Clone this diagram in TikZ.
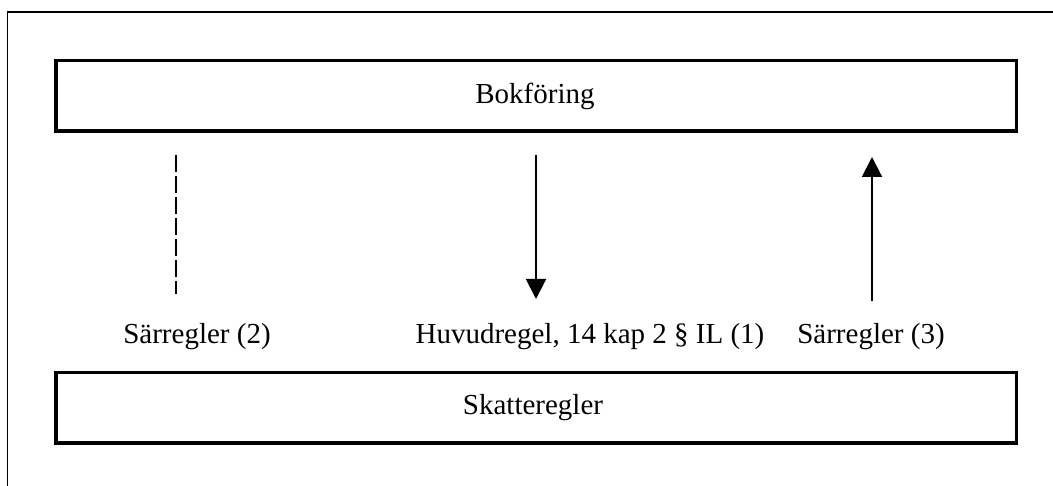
\documentclass[tikz,border=0pt]{standalone}
\usepackage{fontspec}
\setmainfont{Liberation Serif}
\usetikzlibrary{arrows.meta}
\begin{document}
\begin{tikzpicture}[x=1pt, y=-1pt,
    txt/.style={font=\fontsize{29}{35}\selectfont},
    rulebox/.style={draw, line width=3.5pt, minimum width=960.5pt, minimum height=70.5pt, inner sep=0pt, txt},
    label/.style={anchor=base, inner sep=0pt, txt},
    link/.style={line width=2pt},
    tip/.style={-{Triangle[width=20pt,length=20pt]}}]
  \useasboundingbox (0,0) rectangle (1053,486);
  % frame: top and left rules only
  \draw[line width=1.5pt] (7.5,486) -- (7.5,12) -- (1053,12);
  % the two boxes
  \node[rulebox] (bok) at (536,96) {};
  \node[txt] (bokt) at (535,96) {Bokföring};
  \node[rulebox] (skatt) at (536,408) {};
  \node[txt] (skattt) at (533,408) {Skatteregler};
  % labels above the lower box
  \node[label] (s2) at (197,344) {Särregler (2)};
  \node[label] (huv) at (590,344) {Huvudregel, 14~kap 2~§ IL (1)};
  \node[label] (s3) at (871,344) {Särregler (3)};
  % connector end points
  \coordinate (d1) at (176,155);
  \coordinate (d2) at (176,294);
  \coordinate (h1) at (536,155);
  \coordinate (h2) at (536,299);
  \coordinate (u1) at (872,301);
  \coordinate (u2) at (872,157);
  \draw[link, dash pattern=on 17pt off 4pt] (d1) -- (d2);
  \draw[link, tip] (h1) -- (h2);
  \draw[link, tip] (u1) -- (u2);
\end{tikzpicture}
\end{document}
